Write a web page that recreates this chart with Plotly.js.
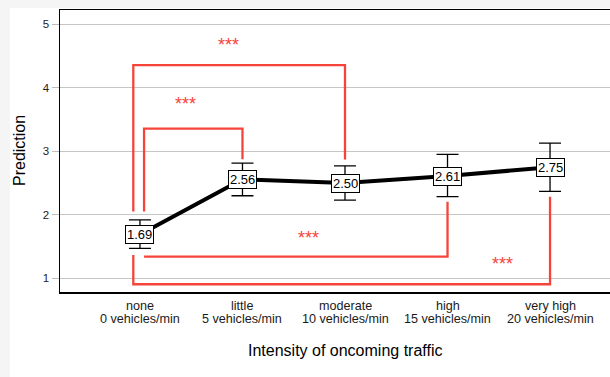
<!DOCTYPE html>
<html>
<head>
<meta charset="utf-8">
<script src="https://cdn.plot.ly/plotly-3.0.1.min.js"></script>
<style>
  html, body { margin: 0; padding: 0; background: #f5f5f5; overflow: hidden; width: 610px; height: 377px; }
  #chart { position: absolute; left: 10px; top: 8px; width: 620px; height: 369px; background: #ffffff; }
</style>
</head>
<body>
<div id="chart"></div>
<script>
// ---- data ----
const catNames = ["none", "little", "moderate", "high", "very high"];
const catRates = ["0 vehicles/min", "5 vehicles/min", "10 vehicles/min", "15 vehicles/min", "20 vehicles/min"];
const catPos = [0, 1, 2, 3, 4];
const means = [1.69, 2.56, 2.50, 2.61, 2.75];
const ciUpper = [1.92, 2.815, 2.77, 2.95, 3.13];
const ciLower = [1.47, 2.30, 2.23, 2.285, 2.37];
const meanLabels = ["1.69", "2.56", "2.50", "2.61", "2.75"];

// significance brackets
const br1x = [-0.065, -0.065, 2, 2];      const br1y = [2.05, 4.357, 4.357, 2.87];
const br2x = [0.04, 0.04, 1, 1];          const br2y = [2.05, 3.357, 3.357, 2.874];
const br3x = [0.04, 3, 3];                const br3y = [1.34, 1.34, 2.206];
const br4x = [-0.065, -0.065, 4, 4];      const br4y = [1.367, 0.906, 0.906, 2.285];
const starX = [0.86, 0.446, 1.64, 3.54];
const starY = [4.71, 3.78, 1.666, 1.26];
const starText = ["***", "***", "***", "***"];

const yTicks = [1, 2, 3, 4, 5];
const xTitle = "Intensity of oncoming traffic";
const yTitle = "Prediction";

// ---- styles ----
const RED = "#f5453a";
const FONT = "Liberation Sans, Arial, sans-serif";

const traces = [];
[[br1x, br1y], [br2x, br2y], [br3x, br3y], [br4x, br4y]].forEach(([bx, by]) => {
  traces.push({ x: bx, y: by, mode: "lines", line: { color: RED, width: 2.3 }, hoverinfo: "skip", showlegend: false });
});
traces.push({
  x: catPos, y: means, mode: "lines",
  line: { color: "#000000", width: 4 },
  error_y: {
    type: "data", symmetric: false,
    array: ciUpper.map((u, i) => u - means[i]),
    arrayminus: ciLower.map((l, i) => means[i] - l),
    color: "#000000", thickness: 1.3, width: 11
  },
  showlegend: false
});

const annotations = [];
catPos.forEach((p, i) => {
  annotations.push({ x: p, y: means[i], xref: "x", yref: "y", text: meanLabels[i], showarrow: false,
    font: { family: FONT, size: 13, color: "#000" }, bgcolor: "#ffffff", bordercolor: "#000000",
    borderwidth: 1, borderpad: 1 });
  annotations.push({ x: p, y: 0, xref: "x", yref: "paper", text: catNames[i], showarrow: false,
    yanchor: "middle", yshift: -13.5, font: { family: FONT, size: 12.6, color: "#1a1a1a" } });
  annotations.push({ x: p, y: 0, xref: "x", yref: "paper", text: catRates[i], showarrow: false,
    yanchor: "middle", yshift: -27, font: { family: FONT, size: 12.6, color: "#1a1a1a" } });
});
starX.forEach((sx, i) => {
  annotations.push({ x: sx, y: starY[i], xref: "x", yref: "y", text: starText[i], showarrow: false,
    yshift: -2.5, font: { family: FONT, size: 18, color: RED } });
});
annotations.push({ x: 2, y: 0, xref: "x", yref: "paper", text: xTitle, showarrow: false,
  yanchor: "middle", yshift: -58, font: { family: FONT, size: 16, color: "#000" } });
annotations.push({ x: 0, y: 0.5, xref: "paper", yref: "paper", text: yTitle, showarrow: false,
  textangle: -90, xanchor: "center", yanchor: "middle", xshift: -41, font: { family: FONT, size: 16, color: "#000" } });

const layout = {
  width: 620, height: 369,
  margin: { l: 50, r: 0, t: 2, b: 85 },
  paper_bgcolor: "#ffffff", plot_bgcolor: "#ffffff",
  font: { family: FONT },
  xaxis: {
    range: [-0.78, 4.78], tickvals: catPos, showticklabels: false, ticks: "",
    showgrid: false, zeroline: false, showline: true, linecolor: "#000000", linewidth: 1.5, mirror: true
  },
  yaxis: {
    range: [0.784, 5.225], tickvals: yTicks, ticktext: yTicks.map(String),
    ticks: "outside", ticklen: 7, tickcolor: "#bdbdbd", tickwidth: 1,
    tickfont: { family: FONT, size: 11.5, color: "#222" },
    showgrid: true, gridcolor: "#c6c6c6", gridwidth: 1, zeroline: false,
    showline: true, linecolor: "#000000", linewidth: 1.5
  },
  annotations: annotations,
  showlegend: false
};

Plotly.newPlot("chart", traces, layout, { staticPlot: true, displayModeBar: false });
</script>
</body>
</html>
